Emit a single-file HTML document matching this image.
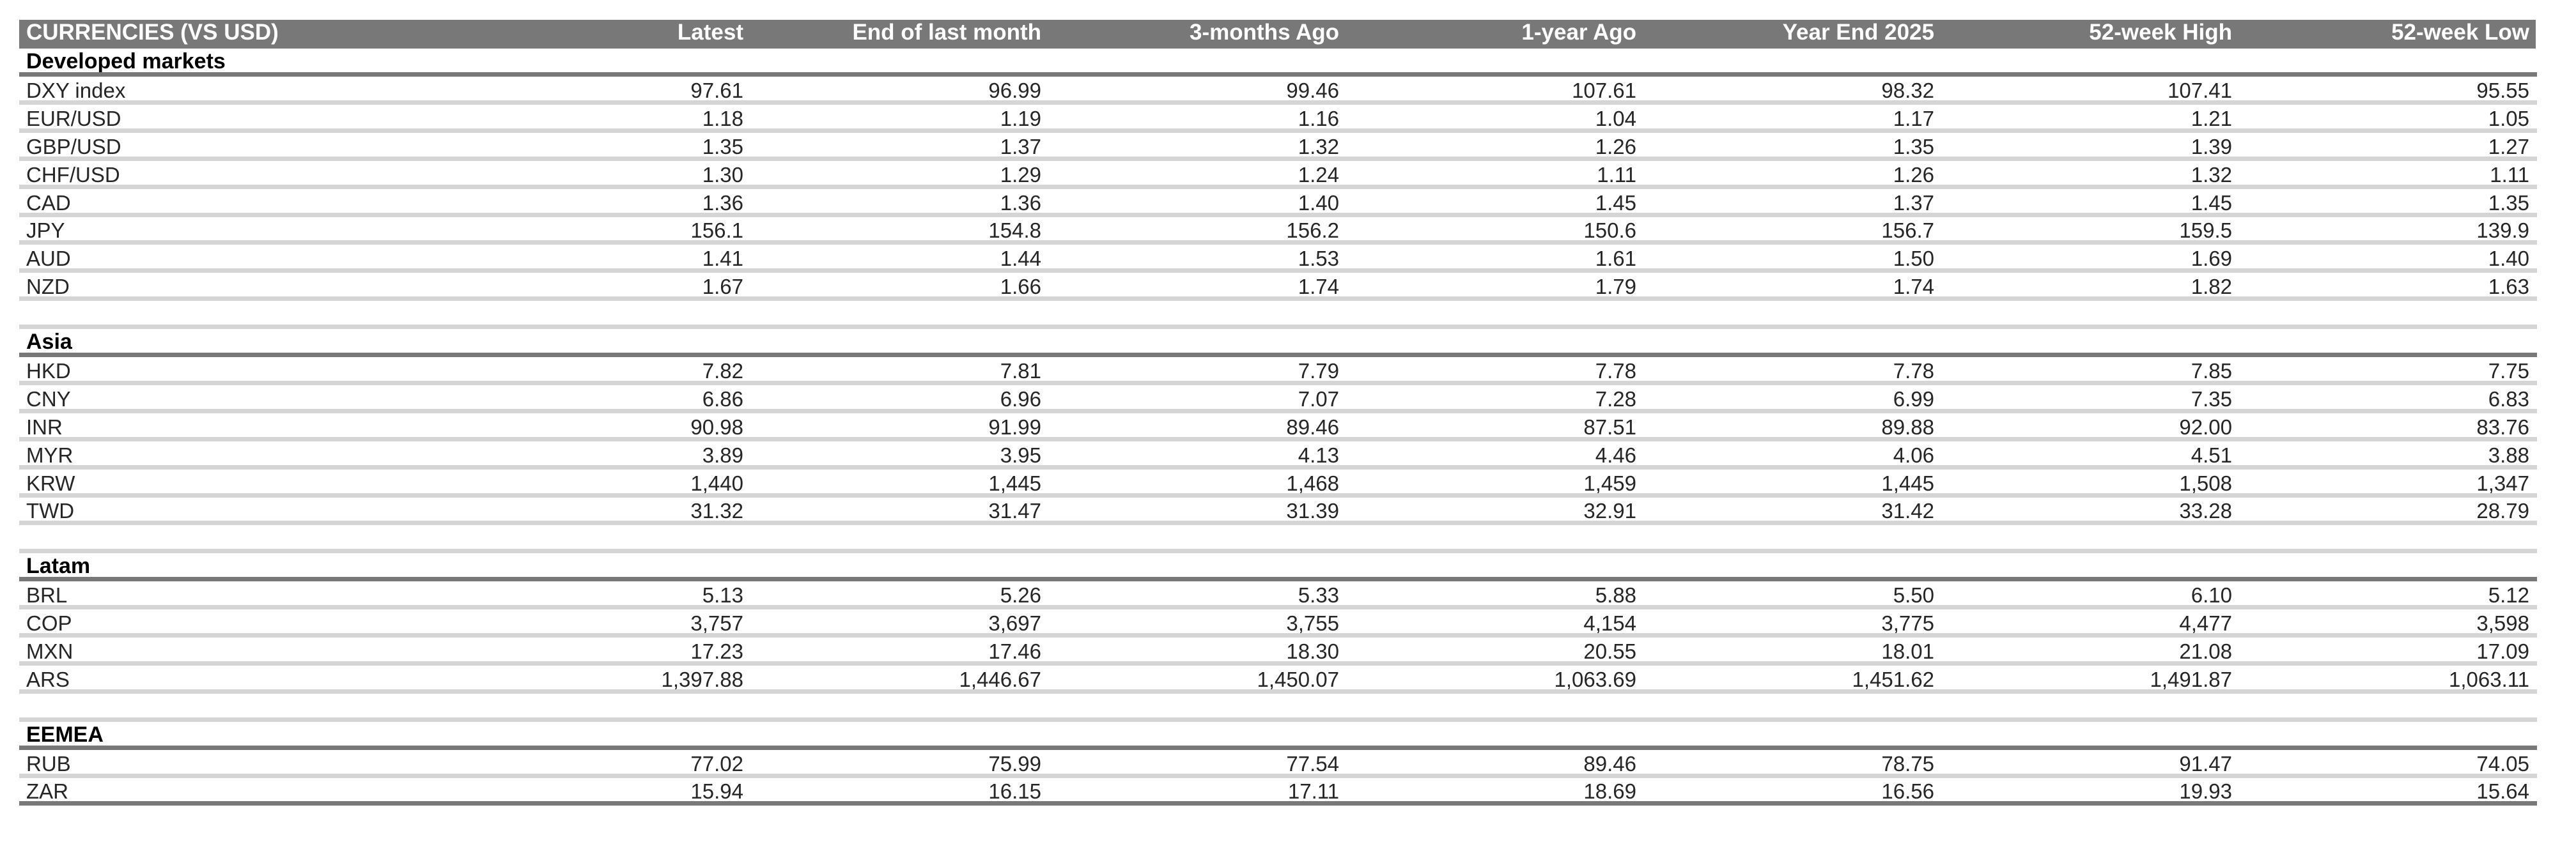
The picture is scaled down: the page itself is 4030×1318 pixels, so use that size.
<!DOCTYPE html>
<html><head><meta charset="utf-8">
<style>
html,body{margin:0;padding:0;background:#fff;}
body{width:4030px;height:1318px;position:relative;overflow:hidden;font-family:"Liberation Sans",Arial,sans-serif;}
.bar{position:absolute;left:30px;top:31px;width:3937px;height:45px;background:#787878;}
.ln{position:absolute;left:30px;width:3939px;height:7px;background:#d5d5d5;}
.dk{background:#787878;}
.r{position:absolute;left:0;width:4030px;height:36px;font-size:33px;line-height:36px;color:#262626;white-space:nowrap;}
.r span{position:absolute;top:0;}
.r .n{left:41px;}
.h{color:#fff;font-weight:bold;font-size:35px;}
.b .n{font-weight:bold;color:#000;font-size:34px;}
.c1{right:2867px}.c2{right:2401px}.c3{right:1935px}.c4{right:1470px}.c5{right:1004px}.c6{right:538px}.c7{right:73px}
</style></head><body>
<div class="bar"></div>
<div class="r h" style="top:33px"><span class="n">CURRENCIES (VS USD)</span><span class="c1">Latest</span><span class="c2">End of last month</span><span class="c3">3-months Ago</span><span class="c4">1-year Ago</span><span class="c5">Year End 2025</span><span class="c6">52-week High</span><span class="c7">52-week Low</span></div>

<div class="r b" style="top:78px"><span class="n">Developed markets</span></div>
<div class="ln dk" style="top:113px"></div>
<div class="r" style="top:124px"><span class="n">DXY index</span><span class="c1">97.61</span><span class="c2">96.99</span><span class="c3">99.46</span><span class="c4">107.61</span><span class="c5">98.32</span><span class="c6">107.41</span><span class="c7">95.55</span></div>
<div class="ln" style="top:157px"></div>
<div class="r" style="top:168px"><span class="n">EUR/USD</span><span class="c1">1.18</span><span class="c2">1.19</span><span class="c3">1.16</span><span class="c4">1.04</span><span class="c5">1.17</span><span class="c6">1.21</span><span class="c7">1.05</span></div>
<div class="ln" style="top:201px"></div>
<div class="r" style="top:212px"><span class="n">GBP/USD</span><span class="c1">1.35</span><span class="c2">1.37</span><span class="c3">1.32</span><span class="c4">1.26</span><span class="c5">1.35</span><span class="c6">1.39</span><span class="c7">1.27</span></div>
<div class="ln" style="top:245px"></div>
<div class="r" style="top:256px"><span class="n">CHF/USD</span><span class="c1">1.30</span><span class="c2">1.29</span><span class="c3">1.24</span><span class="c4">1.11</span><span class="c5">1.26</span><span class="c6">1.32</span><span class="c7">1.11</span></div>
<div class="ln" style="top:289px"></div>
<div class="r" style="top:300px"><span class="n">CAD</span><span class="c1">1.36</span><span class="c2">1.36</span><span class="c3">1.40</span><span class="c4">1.45</span><span class="c5">1.37</span><span class="c6">1.45</span><span class="c7">1.35</span></div>
<div class="ln" style="top:333px"></div>
<div class="r" style="top:343px"><span class="n">JPY</span><span class="c1">156.1</span><span class="c2">154.8</span><span class="c3">156.2</span><span class="c4">150.6</span><span class="c5">156.7</span><span class="c6">159.5</span><span class="c7">139.9</span></div>
<div class="ln" style="top:376px"></div>
<div class="r" style="top:387px"><span class="n">AUD</span><span class="c1">1.41</span><span class="c2">1.44</span><span class="c3">1.53</span><span class="c4">1.61</span><span class="c5">1.50</span><span class="c6">1.69</span><span class="c7">1.40</span></div>
<div class="ln" style="top:420px"></div>
<div class="r" style="top:431px"><span class="n">NZD</span><span class="c1">1.67</span><span class="c2">1.66</span><span class="c3">1.74</span><span class="c4">1.79</span><span class="c5">1.74</span><span class="c6">1.82</span><span class="c7">1.63</span></div>
<div class="ln" style="top:464px"></div>
<div class="ln" style="top:508px"></div>

<div class="r b" style="top:517px"><span class="n">Asia</span></div>
<div class="ln dk" style="top:552px"></div>
<div class="r" style="top:563px"><span class="n">HKD</span><span class="c1">7.82</span><span class="c2">7.81</span><span class="c3">7.79</span><span class="c4">7.78</span><span class="c5">7.78</span><span class="c6">7.85</span><span class="c7">7.75</span></div>
<div class="ln" style="top:596px"></div>
<div class="r" style="top:607px"><span class="n">CNY</span><span class="c1">6.86</span><span class="c2">6.96</span><span class="c3">7.07</span><span class="c4">7.28</span><span class="c5">6.99</span><span class="c6">7.35</span><span class="c7">6.83</span></div>
<div class="ln" style="top:640px"></div>
<div class="r" style="top:651px"><span class="n">INR</span><span class="c1">90.98</span><span class="c2">91.99</span><span class="c3">89.46</span><span class="c4">87.51</span><span class="c5">89.88</span><span class="c6">92.00</span><span class="c7">83.76</span></div>
<div class="ln" style="top:684px"></div>
<div class="r" style="top:695px"><span class="n">MYR</span><span class="c1">3.89</span><span class="c2">3.95</span><span class="c3">4.13</span><span class="c4">4.46</span><span class="c5">4.06</span><span class="c6">4.51</span><span class="c7">3.88</span></div>
<div class="ln" style="top:728px"></div>
<div class="r" style="top:739px"><span class="n">KRW</span><span class="c1">1,440</span><span class="c2">1,445</span><span class="c3">1,468</span><span class="c4">1,459</span><span class="c5">1,445</span><span class="c6">1,508</span><span class="c7">1,347</span></div>
<div class="ln" style="top:772px"></div>
<div class="r" style="top:782px"><span class="n">TWD</span><span class="c1">31.32</span><span class="c2">31.47</span><span class="c3">31.39</span><span class="c4">32.91</span><span class="c5">31.42</span><span class="c6">33.28</span><span class="c7">28.79</span></div>
<div class="ln" style="top:815px"></div>
<div class="ln" style="top:859px"></div>

<div class="r b" style="top:868px"><span class="n">Latam</span></div>
<div class="ln dk" style="top:903px"></div>
<div class="r" style="top:914px"><span class="n">BRL</span><span class="c1">5.13</span><span class="c2">5.26</span><span class="c3">5.33</span><span class="c4">5.88</span><span class="c5">5.50</span><span class="c6">6.10</span><span class="c7">5.12</span></div>
<div class="ln" style="top:947px"></div>
<div class="r" style="top:958px"><span class="n">COP</span><span class="c1">3,757</span><span class="c2">3,697</span><span class="c3">3,755</span><span class="c4">4,154</span><span class="c5">3,775</span><span class="c6">4,477</span><span class="c7">3,598</span></div>
<div class="ln" style="top:991px"></div>
<div class="r" style="top:1002px"><span class="n">MXN</span><span class="c1">17.23</span><span class="c2">17.46</span><span class="c3">18.30</span><span class="c4">20.55</span><span class="c5">18.01</span><span class="c6">21.08</span><span class="c7">17.09</span></div>
<div class="ln" style="top:1035px"></div>
<div class="r" style="top:1046px"><span class="n">ARS</span><span class="c1">1,397.88</span><span class="c2">1,446.67</span><span class="c3">1,450.07</span><span class="c4">1,063.69</span><span class="c5">1,451.62</span><span class="c6">1,491.87</span><span class="c7">1,063.11</span></div>
<div class="ln" style="top:1079px"></div>
<div class="ln" style="top:1123px"></div>

<div class="r b" style="top:1132px"><span class="n">EEMEA</span></div>
<div class="ln dk" style="top:1167px"></div>
<div class="r" style="top:1178px"><span class="n">RUB</span><span class="c1">77.02</span><span class="c2">75.99</span><span class="c3">77.54</span><span class="c4">89.46</span><span class="c5">78.75</span><span class="c6">91.47</span><span class="c7">74.05</span></div>
<div class="ln" style="top:1211px"></div>
<div class="r" style="top:1221px"><span class="n">ZAR</span><span class="c1">15.94</span><span class="c2">16.15</span><span class="c3">17.11</span><span class="c4">18.69</span><span class="c5">16.56</span><span class="c6">19.93</span><span class="c7">15.64</span></div>
<div class="ln dk" style="top:1254px"></div>
</body></html>
